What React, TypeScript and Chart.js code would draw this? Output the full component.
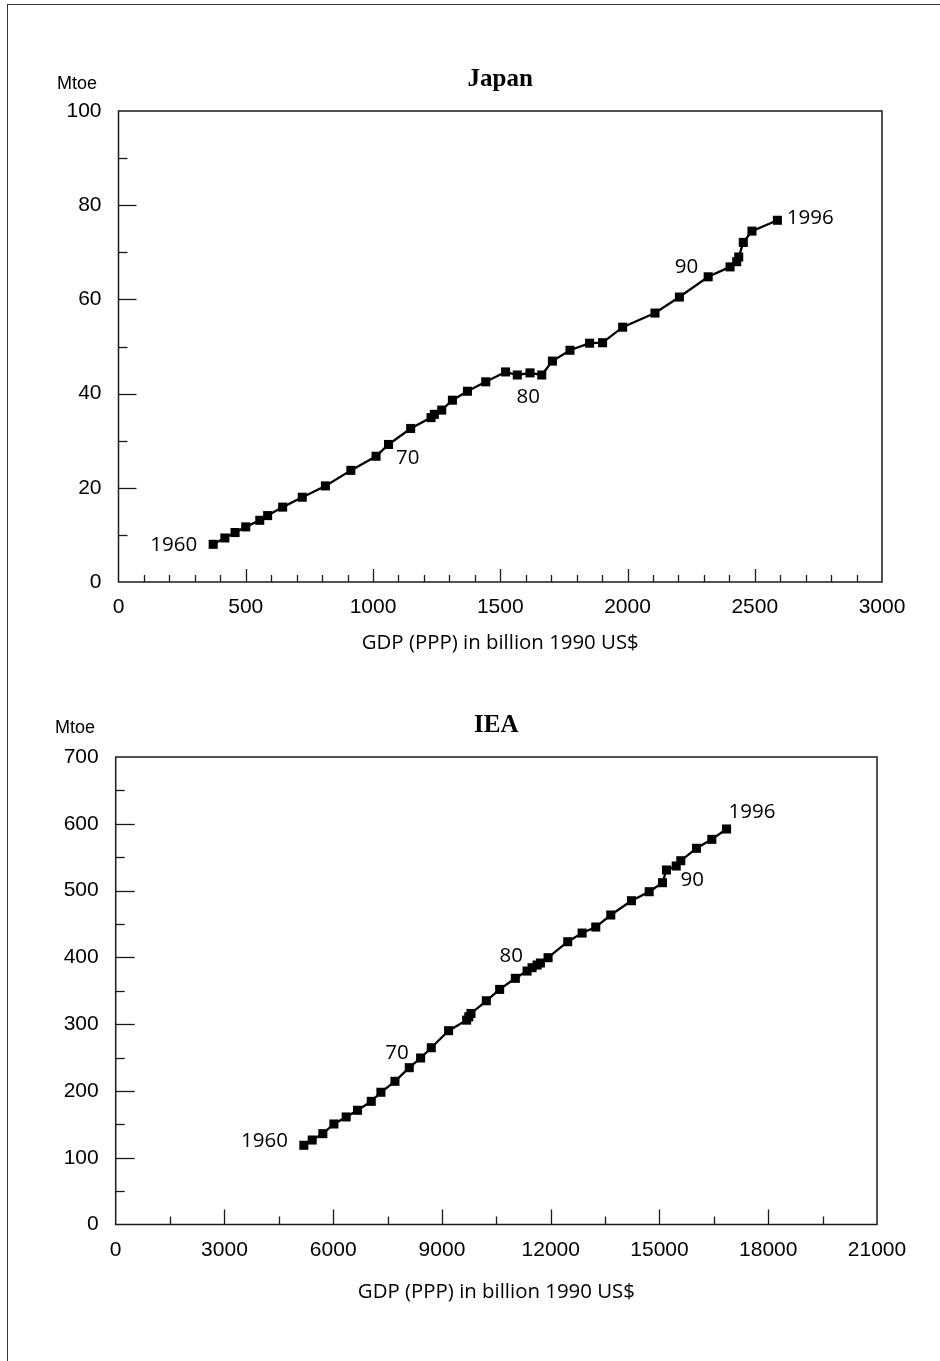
import React, { useEffect, useRef } from "react";
import { Chart, registerables } from "chart.js";

Chart.register(...registerables);

// ---------------- Data ----------------
const jpGdp = [372, 418, 458, 500, 555, 586, 645, 722, 813, 913, 1012, 1061, 1148, 1228, 1241, 1270, 1312, 1371, 1443, 1521, 1567, 1617, 1663, 1705, 1774, 1851, 1902, 1981, 2108, 2204, 2317, 2403, 2429, 2437, 2455, 2489, 2589];
const jpEnergy = [8.0, 9.35, 10.5, 11.7, 13.1, 14.1, 15.9, 18.0, 20.4, 23.7, 26.7, 29.2, 32.6, 34.9, 35.6, 36.5, 38.6, 40.5, 42.5, 44.6, 43.95, 44.4, 43.95, 46.9, 49.2, 50.7, 50.8, 54.1, 57.1, 60.5, 64.8, 66.9, 68.0, 69.0, 72.1, 74.5, 76.8];

const ieaGdp = [5190, 5420, 5714, 6019, 6358, 6671, 7049, 7316, 7703, 8098, 8411, 8705, 9183, 9680, 9740, 9800, 10224, 10591, 11024, 11347, 11485, 11623, 11715, 11927, 12469, 12866, 13242, 13656, 14227, 14716, 15083, 15193, 15461, 15588, 16021, 16444, 16850];
const ieaEnergy = [118.6, 126.5, 136, 150.5, 161, 171, 184.4, 198, 214.4, 234.8, 249.3, 264.7, 290.2, 306, 311, 316, 335, 352, 368.6, 379.5, 384.5, 388.5, 391.5, 399.5, 423.4, 436.4, 445.4, 463.4, 484.8, 498.3, 511.8, 530.8, 536.8, 544.7, 563.3, 576.7, 592.2];

// year labels: text and the index of the point (year - 1960) they belong to
const yearLabelTexts = ["1960", "70", "80", "90", "1996"];
const yearLabelIndex = [0, 10, 20, 30, 36];

const jpXAxis = { max: 3000, step: 500, minor: 100 };
const jpYAxis = { max: 100, step: 20, minor: 10 };
const ieaXAxis = { max: 21000, step: 3000, minor: 1500 };
const ieaYAxis = { max: 700, step: 100, minor: 50 };

const unitLabel = "Mtoe";
const xAxisTitle = "GDP (PPP) in billion 1990 US$";

// ---------------- Panel ----------------
type LabelPos = { dx: number; dy: number; align: CanvasTextAlign };

interface PanelProps {
  title: string;
  gdp: number[];
  energy: number[];
  xAxis: { max: number; step: number; minor: number };
  yAxis: { max: number; step: number; minor: number };
  top: number;
  height: number;
  area: { left: number; right: number; top: number; bottom: number };
  tickLen: { xMajor: number; xMinor: number; yMajor: number; yMinor: number };
  titleDy: number;
  unitPos: { x: number; dy: number };
  axisTitleDy: number;
  labelPos: LabelPos[];
}

const TICK_FONT = '"Liberation Sans", Arial, sans-serif';
const LABEL_FONT = '"Open Sans", "Noto Sans", sans-serif';

function Panel(p: PanelProps) {
  const ref = useRef<HTMLCanvasElement | null>(null);

  useEffect(() => {
    if (!ref.current) return;
    const W = 940;
    const decor = {
      id: "decor",
      afterDraw(chart: any) {
        const { ctx, chartArea, scales } = chart;
        const { left, right, top, bottom } = chartArea;
        const x = scales.x;
        const y = scales.y;
        ctx.save();
        ctx.strokeStyle = "#1a1a1a";
        ctx.lineWidth = 1.5;
        ctx.strokeRect(left, top, right - left, bottom - top);
        ctx.lineWidth = 1.3;
        // x ticks (inward)
        const nx = Math.round(p.xAxis.max / p.xAxis.minor);
        for (let i = 1; i < nx; i++) {
          const v = i * p.xAxis.minor;
          const px = Math.round(x.getPixelForValue(v)) + 0.5;
          const major = Math.abs(v % p.xAxis.step) < 1e-9;
          const len = major ? p.tickLen.xMajor : p.tickLen.xMinor;
          ctx.beginPath();
          ctx.moveTo(px, bottom);
          ctx.lineTo(px, bottom - len);
          ctx.stroke();
        }
        // y ticks (inward)
        const ny = Math.round(p.yAxis.max / p.yAxis.minor);
        for (let i = 1; i < ny; i++) {
          const v = i * p.yAxis.minor;
          const py = Math.round(y.getPixelForValue(v)) + 0.5;
          const major = Math.abs(v % p.yAxis.step) < 1e-9;
          const len = major ? p.tickLen.yMajor : p.tickLen.yMinor;
          ctx.beginPath();
          ctx.moveTo(left, py);
          ctx.lineTo(left + len, py);
          ctx.stroke();
        }
        ctx.fillStyle = "#000";
        // title
        ctx.font = 'bold 25px "Liberation Serif", "Times New Roman", serif';
        ctx.textAlign = "center";
        ctx.textBaseline = "middle";
        ctx.fillText(p.title, (left + right) / 2, top + p.titleDy);
        // unit
        ctx.font = "18px " + TICK_FONT;
        ctx.fillText(unitLabel, p.unitPos.x, top + p.unitPos.dy);
        // axis title
        ctx.font = "20.4px " + LABEL_FONT;
        ctx.fillText(xAxisTitle, (left + right) / 2, bottom + p.axisTitleDy);
        // year labels
        const meta = chart.getDatasetMeta(0);
        ctx.font = "20.5px " + LABEL_FONT;
        yearLabelTexts.forEach((t, k) => {
          const pt = meta.data[yearLabelIndex[k]];
          const lp = p.labelPos[k];
          ctx.textAlign = lp.align;
          ctx.fillText(t, pt.x + lp.dx, pt.y + lp.dy);
        });
        ctx.restore();
      },
    };

    const chart = new Chart(ref.current, {
      type: "scatter",
      data: {
        datasets: [
          {
            data: p.gdp.map((g, i) => ({ x: g, y: p.energy[i] })),
            showLine: true,
            borderColor: "#000",
            borderWidth: 2.3,
            pointStyle: "rect",
            pointRadius: 6.4,
            pointHoverRadius: 6.4,
            pointBackgroundColor: "#000",
            pointBorderWidth: 0,
            tension: 0,
            clip: false as any,
          } as any,
        ],
      },
      options: {
        responsive: false,
        animation: false,
        devicePixelRatio: 1,
        events: [],
        layout: {
          padding: { left: 0, right: W - p.area.right, top: p.area.top, bottom: 0 },
        },
        plugins: {
          legend: { display: false },
          tooltip: { enabled: false },
          title: { display: false },
        },
        scales: {
          x: {
            type: "linear",
            min: 0,
            max: p.xAxis.max,
            grid: { display: false, drawTicks: false },
            border: { display: false },
            ticks: {
              stepSize: p.xAxis.step,
              color: "#000",
              padding: 13,
              maxRotation: 0,
              font: { size: 21, family: TICK_FONT },
              callback: (v: any) => String(v),
            },
            afterFit: (s: any) => {
              s.height = p.height - p.area.bottom;
            },
          },
          y: {
            type: "linear",
            min: 0,
            max: p.yAxis.max,
            grid: { display: false, drawTicks: false },
            border: { display: false },
            ticks: {
              stepSize: p.yAxis.step,
              color: "#000",
              padding: 17,
              font: { size: 21, family: TICK_FONT },
              callback: (v: any) => String(v),
            },
            afterFit: (s: any) => {
              s.width = p.area.left;
            },
          },
        },
      } as any,
      plugins: [decor],
    });
    return () => chart.destroy();
  }, []);

  return (
    <canvas
      ref={ref}
      width={940}
      height={p.height}
      style={{ position: "absolute", left: 0, top: p.top, width: 940, height: p.height }}
    />
  );
}

export default function App() {
  return (
    <div
      style={{
        position: "absolute",
        left: 0,
        top: 0,
        width: 940,
        height: 1361,
        background: "#fff",
        overflow: "hidden",
      }}
    >
      <div style={{ position: "absolute", left: 7, top: 4, width: 933, height: 0, borderTop: "1.5px solid #333" }} />
      <div style={{ position: "absolute", left: 7, top: 4, width: 0, height: 1357, borderLeft: "1.5px solid #333" }} />
      <Panel
        title="Japan"
        gdp={jpGdp}
        energy={jpEnergy}
        xAxis={jpXAxis}
        yAxis={jpYAxis}
        top={0}
        height={680}
        area={{ left: 118.5, right: 882, top: 111, bottom: 582 }}
        tickLen={{ xMajor: 13, xMinor: 7, yMajor: 18, yMinor: 9 }}
        titleDy={-31}
        unitPos={{ x: 77, dy: -27 }}
        axisTitleDy={61}
        labelPos={[
          { dx: -16, dy: 1, align: "right" },
          { dx: 20, dy: 2, align: "left" },
          { dx: 11, dy: 22, align: "center" },
          { dx: -21.6, dy: -10, align: "center" },
          { dx: 9.4, dy: -1.7, align: "left" },
        ]}
      />
      <Panel
        title="IEA"
        gdp={ieaGdp}
        energy={ieaEnergy}
        xAxis={ieaXAxis}
        yAxis={ieaYAxis}
        top={680}
        height={681}
        area={{ left: 115.7, right: 877, top: 77, bottom: 544.5 }}
        tickLen={{ xMajor: 15, xMinor: 8, yMajor: 19, yMinor: 9 }}
        titleDy={-31}
        unitPos={{ x: 75, dy: -29 }}
        axisTitleDy={67.5}
        labelPos={[
          { dx: -16, dy: -4, align: "right" },
          { dx: -12, dy: -5, align: "right" },
          { dx: -9, dy: -12, align: "right" },
          { dx: 18, dy: -3, align: "left" },
          { dx: 2, dy: -17, align: "left" },
        ]}
      />
    </div>
  );
}
